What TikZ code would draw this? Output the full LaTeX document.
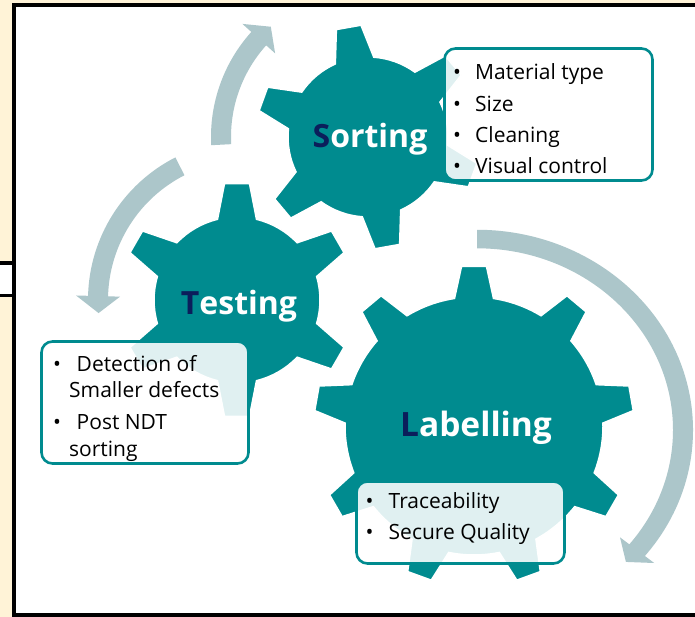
\documentclass[tikz,border=0pt]{standalone}
\usepackage{fontspec}
\setmainfont{Open Sans}
\definecolor{gearteal}{HTML}{008B8F}
\definecolor{arrowgrey}{HTML}{ACC6CA}
\definecolor{navyletter}{HTML}{0B1E5B}
\definecolor{bgcream}{HTML}{FFF3D7}
\tikzset{
  gearbody/.style={fill=gearteal, draw=white, line width=1.5pt, line join=miter},
  arrowband/.style={fill=arrowgrey},
  infobox/.style={draw=gearteal, line width=2.6pt, rounded corners=11pt, fill=white, fill opacity=0.88, inner sep=0pt},
  boxtext/.style={anchor=base west, inner sep=0pt, text=black, font=\fontsize{21}{24}\selectfont},
  gearlabel/.style={anchor=base, inner sep=0pt, text=white, font=\bfseries\fontsize{32}{36}\selectfont},
}
% cx cy r R n offset
\newcommand\gearshape[6]{%
  \begin{scope}[shift={(#1,#2)}]
    \pgfmathsetmacro\gstep{360/#5}
    \pgfmathsetmacro\ghb{asin(19.5/#3)}
    \pgfmathsetmacro\ght{asin(12.5/#4)}
    \filldraw[gearbody] (#6-\ghb:#3)
      \foreach \k [evaluate=\k as \a using #6+(\k-1)*\gstep] in {1,...,#5}{
        -- (\a-\ght:#4) -- (\a+\ght:#4) -- (\a+\ghb:#3)
        arc[start angle=\a+\ghb, end angle=\a+\gstep-\ghb, radius=#3]
      } -- cycle;
  \end{scope}}
% cx cy rm a1 a2 delta yscale
\newcommand\circarrow[7]{%
  \begin{scope}[shift={(#1,#2)}, yscale=#7]
    \fill[arrowband] (#4:#3-10) arc[start angle=#4, end angle=#5, radius=#3-10]
      -- (#5:#3-22) -- (#5+#6:#3) -- (#5:#3+22) -- (#5:#3+10)
      arc[start angle=#5, end angle=#4, radius=#3+10] -- cycle;
  \end{scope}}
\begin{document}
\begin{tikzpicture}[x=1pt,y=1pt]
\useasboundingbox (0,0) rectangle (695,617);
\fill[bgcream] (0,0) rectangle (695,617);
\draw[line width=3.5pt, fill=white] (-10,321.5) rectangle (14,354);
\draw[line width=4pt, fill=white] (14,2) rectangle (710,612);

% circular arrows
\circarrow{368}{480}{147}{183}{138}{-6.6}{1}
\circarrow{248}{317}{150}{117}{178.5}{6.5}{1}
\circarrow{477}{187}{206}{90}{-39}{-4.7}{0.927}

% gears
\gearshape{368}{480}{80}{112}{6}{40}
\gearshape{237}{317}{83}{117}{6}{30}
\gearshape{474}{191}{129}{160}{9}{10}

% gear labels
\node[gearlabel] (lsort) at (370,469.7) {{\color{navyletter}S}orting};
\node[gearlabel] (ltest) at (239,302) {{\color{navyletter}T}esting};
\node[gearlabel, font=\bfseries\fontsize{33.5}{36}\selectfont] (llab) at (476,180.3) {{\color{navyletter}L}abelling};

% boxes
\node[infobox, minimum width=208pt, minimum height=132pt] (sbox) at (548.5,502.5) {};
\node[infobox, minimum width=207pt, minimum height=122pt] (tbox) at (145,214.5) {};
\node[infobox, minimum width=208pt, minimum height=82pt] (lbox) at (460.5,94.5) {};

% Sorting box text
\node[boxtext] (sb1) at (453,537) {•};
\node[boxtext] (st1) at (475,537) {Material type};
\node[boxtext] (sb2) at (453,505.5) {•};
\node[boxtext] (st2) at (475,505.5) {Size};
\node[boxtext] (sb3) at (453,474) {•};
\node[boxtext] (st3) at (475,474) {Cleaning};
\node[boxtext] (sb4) at (453,443) {•};
\node[boxtext] (st4) at (475,443) {Visual control};

% Testing box text
\node[boxtext] (tb1) at (53,245.3) {•};
\node[boxtext] (tt1) at (76.5,245.3) {Detection of};
\node[boxtext] (tt2) at (69,219) {Smaller defects};
\node[boxtext] (tb2) at (53,187) {•};
\node[boxtext] (tt3) at (76.5,187) {Post NDT};
\node[boxtext] (tt4) at (69,160.3) {sorting};

% Labelling box text
\node[boxtext] (lb1) at (365.5,108.7) {•};
\node[boxtext] (lt1) at (388.5,108.7) {Traceability};
\node[boxtext] (lb2) at (365.5,77) {•};
\node[boxtext] (lt2) at (388.5,77) {Secure Quality};
\end{tikzpicture}
\end{document}
